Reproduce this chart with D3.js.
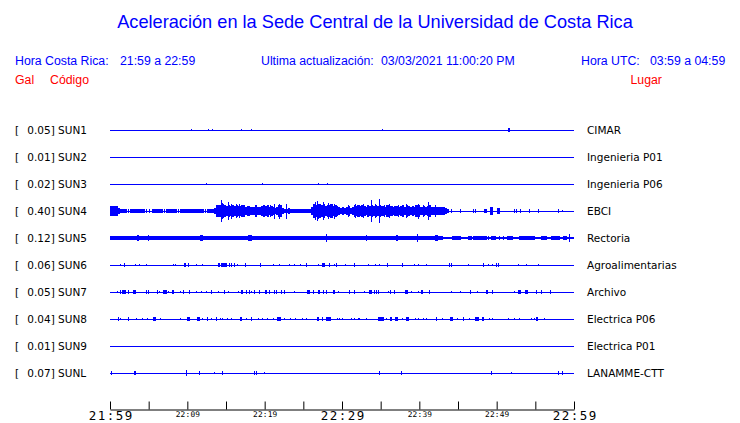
<!DOCTYPE html>
<html><head><meta charset="utf-8">
<script src="https://cdn.jsdelivr.net/npm/d3@7"></script>
<style>
html,body{margin:0;padding:0;background:#fff;}
svg{display:block;}
</style></head>
<body>
<script>
// ---------- DATA ----------
const stations = ["SUN1","SUN2","SUN3","SUN4","SUN5","SUN6","SUN7","SUN8","SUN9","SUNL"];
const peakGal = ["0.05","0.01","0.02","0.40","0.12","0.06","0.05","0.04","0.01","0.07"];
const places = ["CIMAR","Ingenieria P01","Ingenieria P06","EBCI","Rectoria","Agroalimentarias","Archivo","Electrica P06","Electrica P01","LANAMME-CTT"];

// time axis: minutes after 21:59 (hora Costa Rica)
const tickMinutes = [0,5,10,15,20,25,30,35,40,45,50,55,60];
const tickLabels = ["21:59","","22:09","","22:19","","22:29","","22:39","","22:49","","22:59"];
const bigLabels = ["21:59","22:29","22:59"];

// background noise level per trace: [start min, end min, half-amplitude Gal]
const noiseSUN4 = [[1.1,2.2,0.05],[2.6,4.5,0.045],[5.4,6.9,0.05],[7.3,8.6,0.05],[9.05,12.1,0.045],[12.5,13.4,0.05],[23.2,26.0,0.05]];
const noiseSUN5 = [[0,43.1,0.045],[43.1,60,0.025]];

// SUN4 envelope of strong-motion bursts, sampled every 0.25 min: [start min, amplitudes Gal]
const burstStep = 0.25;
const burstSUN4a = [0, [0.16,0.17,0.15,0.16,0.08]];
const burstSUN4b = [13.5, [0.08,0.19,0.21,0.17,0.23,0.18,0.15,0.21,0.17,0.2,0.15,0.21,0.17,0.15,0.2,0.14,0.12,0.16,0.12,0.14,0.12,0.18,0.13,0.11,0.15,0.2,0.16,0.18,0.13,0.17,0.12,0.09,0.11,0.19,0.18,0.1,0.07,0.05,0.09,0.05]];
const burstSUN4c = [26.0, [0.12,0.24,0.2,0.25,0.22,0.19,0.24,0.17,0.21,0.19,0.23,0.15,0.2,0.17,0.14,0.09,0.11,0.09,0.13,0.15,0.1,0.14,0.18,0.15,0.18,0.15,0.2,0.17,0.14,0.19,0.16,0.2,0.17,0.19,0.16,0.2,0.17,0.15,0.14,0.18,0.13,0.16,0.13,0.17,0.15,0.12,0.16,0.18,0.13,0.19,0.15,0.12,0.16,0.14,0.18,0.2,0.14,0.12,0.16,0.13,0.17,0.2,0.13,0.12,0.14,0.11,0.13,0.11,0.12,0.1,0.05]];

// isolated arrivals: [minute, half-amplitude Gal, duration min]
const spikesSUN1 = [[10.5,0.03],[12.7,0.03],[13.2,0.03],[17.0,0.035],[18.3,0.03],[35.2,0.03],[51.6,0.05,0.35]];
const spikesSUN2 = [];
const spikesSUN3 = [[12.45,0.015],[19.7,0.015],[26.9,0.015],[28.1,0.02]];
const spikesSUN4 = [[2.37,0.07],[4.74,0.06],[5.08,0.06],[7.11,0.06],[8.84,0.06],[12.41,0.07],
  [14.4,0.37],[14.6,0.27],[15.3,0.29],[15.65,0.25],[16.38,0.23],[16.81,0.24],[17.4,0.2],[18.9,0.19],[20.69,0.21],[21.33,0.25],[21.98,0.25],[22.84,0.25],
  [23.5,0.06],[24.78,0.06],[25.2,0.07],
  [26.51,0.29],[26.85,0.35],[27.58,0.29],[28.3,0.26],[29.09,0.25],[30.82,0.18],[31.7,0.22],[32.76,0.24],[33.83,0.36],[34.3,0.24],[34.83,0.4],[35.5,0.21],[36.2,0.22],[37.3,0.2],[38.36,0.23],[39.87,0.25],[40.5,0.2],[41.16,0.29],[42.1,0.18],
  [44.18,0.05],[45.38,0.04],[46.98,0.04],[47.28,0.05],[48.53,0.07,0.43],[49.35,0.12,0.43],[50.21,0.09,0.35],[52.3,0.05],[52.6,0.05],[53.14,0.04],[54.3,0.05],[55.38,0.04],[57.97,0.04,0.17],[58.49,0.03]];
const spikesSUN5 = [[2.37,0.07],[2.59,0.05],[3.66,0.1,0.22],[4.96,0.08],[6.55,0.06],[6.77,0.06],[7.37,0.06,0.22],[8.02,0.06,0.3],[9.05,0.07],[11.81,0.1,0.35],[13.15,0.06],[13.79,0.07],[14.44,0.06],[16.03,0.07,1.08],[18.1,0.08,0.43],[19.09,0.06],[22.41,0.05],[25.99,0.06],[26.59,0.07],[27.58,0.065,1.3],[27.97,0.12],[29.09,0.06],[30.39,0.06,1.7],[33.19,0.08],[35.86,0.06],[37.15,0.08,0.22],[39.74,0.13],[40.73,0.06,0.86],[42.24,0.1,0.43],[42.97,0.07],
  [44.7,0.045,1.08],[45.38,0.05],[46.55,0.045,0.43],[47.84,0.045,1.7],[48.92,0.07],[49.65,0.05,0.65],[50.34,0.05],[50.86,0.05],[51.72,0.055,0.86],[53.88,0.045,2.1],[56.12,0.05,0.65],[57.63,0.05,1.08],[58.83,0.05,0.43],[59.4,0.12]];
const spikesSUN6 = [[1.38,0.03],[1.85,0.045,0.2],[3.32,0.035],[3.79,0.035],[4.7,0.035],[8.19,0.035],[8.53,0.035],[9.7,0.05,0.22],[10.21,0.045],[11.21,0.02],[11.94,0.02],[14.09,0.05,0.2],[14.72,0.05,0.75],[14.74,0.07],[15.43,0.045],[15.73,0.045],[16.08,0.045],[16.46,0.035],[17.54,0.05,0.22],[19.48,0.05,0.22],[21.12,0.035],[21.89,0.035],[23.19,0.02],[23.92,0.02],[24.65,0.02],[25.47,0.045],[26.94,0.02],[27.63,0.05,0.35],[28.4,0.05,0.2],[29.05,0.035],[29.31,0.045],[30.43,0.035],[31.64,0.045],[33.45,0.035],[34.31,0.035],[34.82,0.02],[35.9,0.045],[37.88,0.045],[39.39,0.02],[39.87,0.02],[40.9,0.035],[43.88,0.045],[44.18,0.045],[46.33,0.02],[48.32,0.05,0.2],[48.92,0.02],[49.43,0.035],[49.95,0.045],[50.21,0.045],[52.8,0.035],[53.88,0.035],[55.38,0.035]];
const spikesSUN7 = [[0.99,0.035],[1.38,0.045],[1.81,0.05,0.43],[2.45,0.045],[3.14,0.05,0.35],[4.74,0.045],[5.04,0.045],[6.16,0.045],[6.42,0.035],[7.11,0.05,0.43],[7.54,0.035],[8.14,0.05,0.35],[9.18,0.035],[9.48,0.045],[10.34,0.045],[11.2,0.035],[11.85,0.035],[12.5,0.035],[13.14,0.045],[14.09,0.035],[14.78,0.045],[15.38,0.02],[16.59,0.035],[17.06,0.05,0.3],[17.67,0.045],[18.01,0.045],[18.31,0.035],[18.66,0.045],[19.31,0.045],[20.17,0.05,0.3],[20.68,0.045],[21.33,0.045],[21.59,0.045],[22.19,0.045],[22.58,0.045],[23.92,0.035],[25.64,0.05,0.39],[26.29,0.045],[27.06,0.05,0.3],[27.58,0.045],[28.01,0.045],[29.0,0.05,0.26],[29.52,0.02],[31.03,0.045],[31.68,0.045],[32.97,0.035],[33.7,0.05,0.35],[34.26,0.045],[34.52,0.045],[34.78,0.045],[35.99,0.035],[36.29,0.045],[36.85,0.045],[38.36,0.05,0.43],[39.0,0.035],[39.86,0.035],[40.38,0.05,0.26],[41.33,0.05,0.22],[44.17,0.035],[45.29,0.035],[46.67,0.045],[47.54,0.035],[48.79,0.05,0.26],[49.43,0.045],[52.36,0.035],[52.97,0.05,0.35],[53.87,0.05,0.3],[55.16,0.045],[55.81,0.045],[57.02,0.045]];
const spikesSUN8 = [[1.07,0.045,0.2],[1.42,0.035],[2.45,0.045],[3.44,0.035],[4.18,0.02],[4.87,0.035],[5.73,0.045,0.35],[6.59,0.035],[9.18,0.035],[10.13,0.045,0.43],[11.42,0.045,0.43],[11.94,0.035],[12.62,0.045],[13.14,0.035],[13.75,0.045,0.2],[14.31,0.02],[14.52,0.02],[15.21,0.035],[15.73,0.035],[16.89,0.045,0.26],[17.67,0.035],[18.31,0.045],[19.18,0.02],[19.74,0.035],[20.34,0.035],[21.12,0.035],[21.85,0.045,0.43],[22.62,0.035],[23.31,0.035],[24.0,0.02],[24.87,0.02],[25.43,0.035],[26.93,0.045,0.26],[27.45,0.045],[28.27,0.045,0.73],[29.43,0.02],[29.74,0.02],[30.04,0.02],[31.24,0.02],[31.59,0.035],[32.11,0.02],[32.32,0.035],[33.18,0.02],[35.04,0.045,0.86],[35.77,0.035],[36.33,0.045,0.3],[37.06,0.045,0.3],[37.84,0.035],[38.44,0.045,0.39],[39.56,0.035],[39.95,0.02],[40.55,0.035],[40.94,0.035],[42.23,0.045,0.2],[42.97,0.035],[44.22,0.045,0.39],[44.91,0.035],[45.68,0.045],[46.46,0.035],[47.45,0.045,0.52],[48.27,0.045,0.3],[49.13,0.035],[49.48,0.035],[51.5,0.02],[52.36,0.035],[52.92,0.035],[54.52,0.02],[54.86,0.035],[55.25,0.045,0.2],[56.24,0.02]];
const spikesSUN9 = [];
const spikesSUNL = [[0.21,0.04],[3.14,0.04],[3.36,0.04],[9.87,0.08],[11.55,0.04],[13.49,0.015],[14.52,0.04],[18.66,0.04],[18.96,0.04],[19.95,0.015],[34.82,0.04],[37.71,0.04,0.2],[49.3,0.04],[51.89,0.015],[58.05,0.04],[58.48,0.04]];

// ---------- CHART ----------
const W = 740, H = 423;
const blue = "#0000ff", red = "#ff0000";
const svg = d3.select("body").append("svg").attr("width", W).attr("height", H);

const x = d3.scaleLinear().domain([0, 60]).range([110, 574]);
const y = d3.scalePoint().domain(stations).range([130, 373]);
const amp = d3.scaleLinear().domain([0, 1]).range([0, 28]); // px per Gal (half-height)

const sans = "'Liberation Sans', Arial, Helvetica, sans-serif";
const dv = "'DejaVu Sans', sans-serif";

// title
svg.append("text").attr("x", 375).attr("y", 28).attr("text-anchor", "middle")
  .attr("font-family", sans).attr("font-size", 18.2).attr("fill", blue)
  .text("Aceleración en la Sede Central de la Universidad de Costa Rica");

// header lines
const hdr = [
  ["Hora Costa Rica:", 15, 65, blue], ["21:59 a 22:59", 120, 65, blue],
  ["Ultima actualización:", 261, 65, blue], ["03/03/2021 11:00:20 PM", 381, 65, blue],
  ["Hora UTC:", 581, 65, blue], ["03:59 a 04:59", 650, 65, blue],
  ["Gal", 15, 84, red], ["Código", 50, 84, red], ["Lugar", 630.5, 84, red]
];
svg.selectAll("text.hdr").data(hdr).join("text").attr("class", "hdr")
  .attr("x", d => d[1]).attr("y", d => d[2]).attr("fill", d => d[3])
  .attr("font-family", sans).attr("font-size", 12.3).text(d => d[0]);

// row labels
const rows = svg.append("g");
stations.forEach((s, i) => {
  const cy = y(s);
  rows.append("text").attr("x", 15).attr("y", cy + 4).attr("font-family", dv).attr("font-size", 10.5).attr("fill", "#000").text("[");
  rows.append("text").attr("x", 27.3).attr("y", cy + 4).attr("font-family", dv).attr("font-size", 10.5).attr("fill", "#000").text(peakGal[i] + "] " + s);
  rows.append("text").attr("x", 587).attr("y", cy + 4).attr("font-family", dv).attr("font-size", 10.5).attr("fill", "#000").text(places[i]);
});

// traces
const traces = [
  {s:"SUN1", spikes:spikesSUN1, noise:[], bursts:[]},
  {s:"SUN2", spikes:spikesSUN2, noise:[], bursts:[]},
  {s:"SUN3", spikes:spikesSUN3, noise:[], bursts:[]},
  {s:"SUN4", spikes:spikesSUN4, noise:noiseSUN4, bursts:[burstSUN4a, burstSUN4b, burstSUN4c]},
  {s:"SUN5", spikes:spikesSUN5, noise:noiseSUN5, bursts:[]},
  {s:"SUN6", spikes:spikesSUN6, noise:[], bursts:[]},
  {s:"SUN7", spikes:spikesSUN7, noise:[], bursts:[]},
  {s:"SUN8", spikes:spikesSUN8, noise:[], bursts:[]},
  {s:"SUN9", spikes:spikesSUN9, noise:[], bursts:[]},
  {s:"SUNL", spikes:spikesSUNL, noise:[], bursts:[]}
];

const tg = svg.append("g").attr("fill", blue).attr("shape-rendering", "crispEdges");
traces.forEach(tr => {
  const cy = y(tr.s);
  // baseline
  tg.append("rect").attr("x", x(0)).attr("y", cy - 0.5).attr("width", x(60) - x(0)).attr("height", 1);
  // noise bands
  tg.selectAll(null).data(tr.noise).join("rect")
    .attr("x", d => x(d[0])).attr("width", d => x(d[1]) - x(d[0]))
    .attr("y", d => cy - amp(d[2]) - 0.5).attr("height", d => 2 * amp(d[2]) + 1);
  // bursts
  tr.bursts.forEach(b => {
    const pts = b[1].map((a, i) => [b[0] + i * burstStep, a]);
    tg.selectAll(null).data(pts).join("rect")
      .attr("x", d => x(d[0])).attr("width", x(burstStep) - x(0) + 0.3)
      .attr("y", d => cy - amp(d[1]) - 0.5).attr("height", d => 2 * amp(d[1]) + 1);
  });
  // spikes
  tg.selectAll(null).data(tr.spikes).join("rect")
    .attr("x", d => d[2] ? x(d[0]) - (x(d[2]) - x(0)) / 2 : x(d[0]) - 0.5)
    .attr("width", d => d[2] ? Math.max(1, x(d[2]) - x(0)) : 1)
    .attr("y", d => cy - amp(d[1]) - 0.5).attr("height", d => 2 * amp(d[1]) + 1);
});

// time axis
const axis = d3.axisBottom(x).tickValues(tickMinutes).tickSize(-8).tickSizeOuter(0)
  .tickFormat((d, i) => tickLabels[i]);
const ag = svg.append("g").attr("transform", "translate(0,409.5)").call(axis);
ag.select(".domain").attr("stroke", "#000");
ag.selectAll(".tick line").attr("stroke", "#000");
ag.selectAll(".tick text")
  .attr("dy", null)
  .attr("fill", "#000")
  .attr("font-family", "'DejaVu Sans Mono', monospace")
  .each(function(d, i) {
    const big = bigLabels.includes(tickLabels[i]);
    d3.select(this)
      .attr("y", big ? 10 : 7.2)
      .attr("font-size", big ? 12.5 : 7.8)
      .attr("letter-spacing", big ? 1.5 : 0.2)
      .attr("dx", big ? 0.75 : 0.1);
  });
</script>
</body></html>
